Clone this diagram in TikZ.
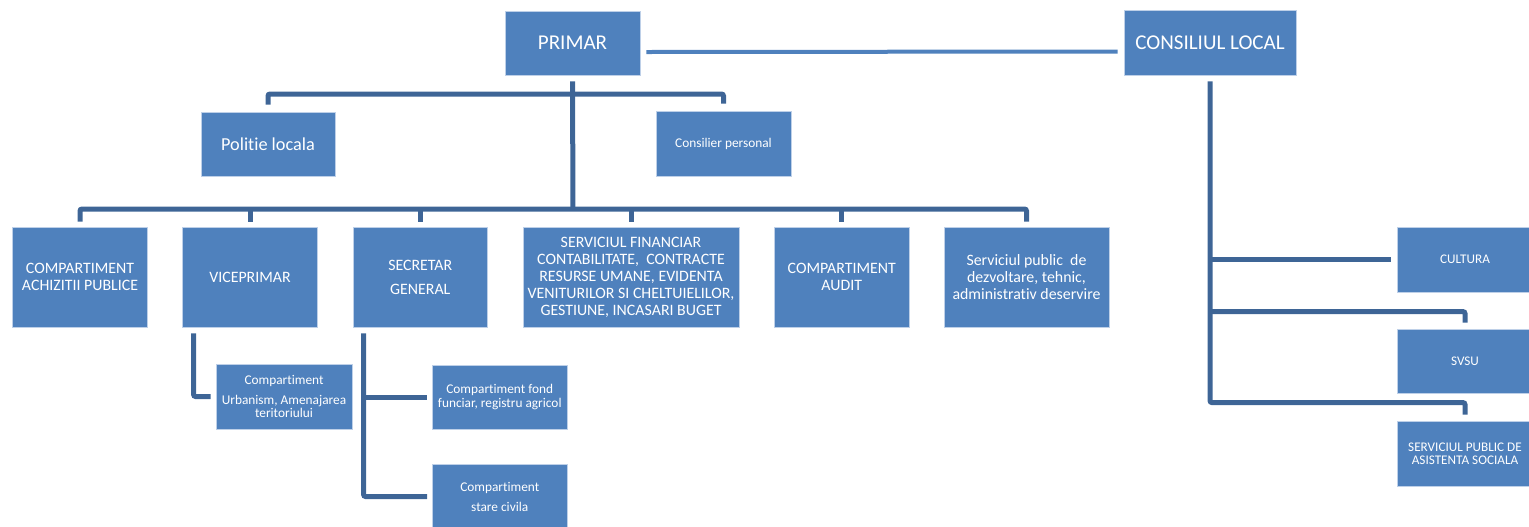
\documentclass[tikz,border=0pt]{standalone}
\usepackage{fontspec}
\setmainfont{Carlito}[Ligatures=NoCommon]
\usetikzlibrary{calc}
\definecolor{boxblue}{RGB}{79,129,189}
\definecolor{linkblue}{RGB}{62,101,150}
\definecolor{edgeblue}{RGB}{190,208,232}
\newcommand\obox[7][]{\node[box,minimum width={(#5-#3)*0.75pt},minimum height={(#6-#4)*0.75pt},#1] (#2) at ({(#3+#5)/2},{(#4+#6)/2}) {#7};}
\newcommand\fsz[2]{\fontsize{#1pt}{#2pt}\selectfont}
\begin{document}
\begin{tikzpicture}[x=0.75pt,y=-0.75pt,
  box/.style={fill=boxblue,draw=edgeblue,line width=0.6pt,text=white,inner sep=0pt,align=center},
  conn/.style={draw=linkblue,line width=3.75pt,rounded corners=1.5pt},
  pline/.style={draw=boxblue,line width=3pt}]
\useasboundingbox (0,0) rectangle (1529,526);
% top
\obox[font=\fsz{15.8}{19}]{primar}{505}{11}{640}{75}{PRIMAR}
\obox[font=\fsz{15.8}{19}]{cl}{1124}{10}{1296}{75}{CONSILIUL LOCAL}
\obox[font=\fsz{13.7}{16}]{pol}{201}{112}{335}{176}{Politie locala}
\obox[font=\fsz{10}{12}]{cons}{656}{111}{791}{176}{Consilier personal}
% bottom row
\obox[font=\fsz{11.9}{13.3}]{achiz}{12.5}{227}{147.5}{327}{COMPARTIMENT\\ACHIZITII PUBLICE}
\obox[font=\fsz{11.9}{13.3}]{vice}{182.5}{227}{317.5}{327}{VICEPRIMAR}
\obox[font=\fsz{11.9}{18}]{secr}{353}{227}{487.5}{327}{SECRETAR\\GENERAL}
\obox[font=\fsz{11.9}{12.75}]{fin}{523}{227}{739}{327}{SERVICIUL FINANCIAR\\CONTABILITATE,\ \ CONTRACTE\\RESURSE UMANE, EVIDENTA\\VENITURILOR SI CHELTUIELILOR,\\GESTIUNE, INCASARI BUGET}
\obox[font=\fsz{11.9}{13.3}]{audit}{774.5}{227}{909}{327}{COMPARTIMENT\\AUDIT}
\obox[font=\fsz{11.9}{12.5}]{spub}{944}{227}{1109}{327}{Serviciul public\ \ de\\dezvoltare, tehnic,\\administrativ deservire}
% sub boxes
\obox[font=\fsz{10}{9.8}]{urb}{216}{364}{352}{429}{Compartiment\\[5.5pt]Urbanism, Amenajarea\\teritoriului}
\obox[font=\fsz{10}{10.5}]{fond}{432.5}{365}{567}{429}{Compartiment fond\\funciar, registru agricol}
\obox[font=\fsz{10}{15}]{civ}{432.5}{464}{567}{529}{Compartiment\\stare civila}
% right column
\obox[font=\fsz{9.9}{10}]{cult}{1397}{227}{1533}{292}{CULTURA}
\obox[font=\fsz{9.9}{10}]{svsu}{1397}{329}{1533}{393}{SVSU}
\obox[font=\fsz{9.9}{9.75}]{spas}{1397}{421}{1533}{486}{SERVICIUL PUBLIC DE\\ASISTENTA SOCIALA}
% connectors
\coordinate (tb) at (573,94);
\coordinate (bb) at (573,209);
\draw[pline] ($(primar.east)+(6,9)$) -- ($(cl.west)+(-6,9)$);
\draw[conn] ($(primar.south)+(0,6)$) -- (bb);
\draw[conn] ($(pol.north)+(0,-7)$) |- (tb) -| ($(cons.north)+(0,-7)$);
\draw[conn] ($(achiz.north)+(0,-5)$) |- (bb) -| ($(spub.north)+(0,-5)$);
\foreach \n in {vice,secr,fin,audit}{
  \draw[conn] ($(\n.north)+(0,-5)$) -- (\n.north |- bb);
}
\coordinate (vs) at ($(vice.south west)+(11.5,6)$);
\draw[conn] (vs) |- ($(urb.west)+(-5,0)$);
\coordinate (ss) at ($(secr.south west)+(11,6)$);
\draw[conn] (ss) |- ($(civ.west)+(-5,0)$);
\draw[conn] (ss |- fond.west) -- ($(fond.west)+(-5,0)$);
\coordinate (rb) at ($(spas.north)+(0,-18)$);
\coordinate (rb2) at ($(svsu.north)+(0,-17)$);
\draw[conn] ($(cl.south)+(0,6)$) |- (rb) -- ($(spas.north)+(0,-6)$);
\draw[conn] (cl.south |- rb2) -| ($(svsu.north)+(0,-6)$);
\draw[conn] (cl.south |- cult.west) -- ($(cult.west)+(-6,0)$);
\end{tikzpicture}
\end{document}
